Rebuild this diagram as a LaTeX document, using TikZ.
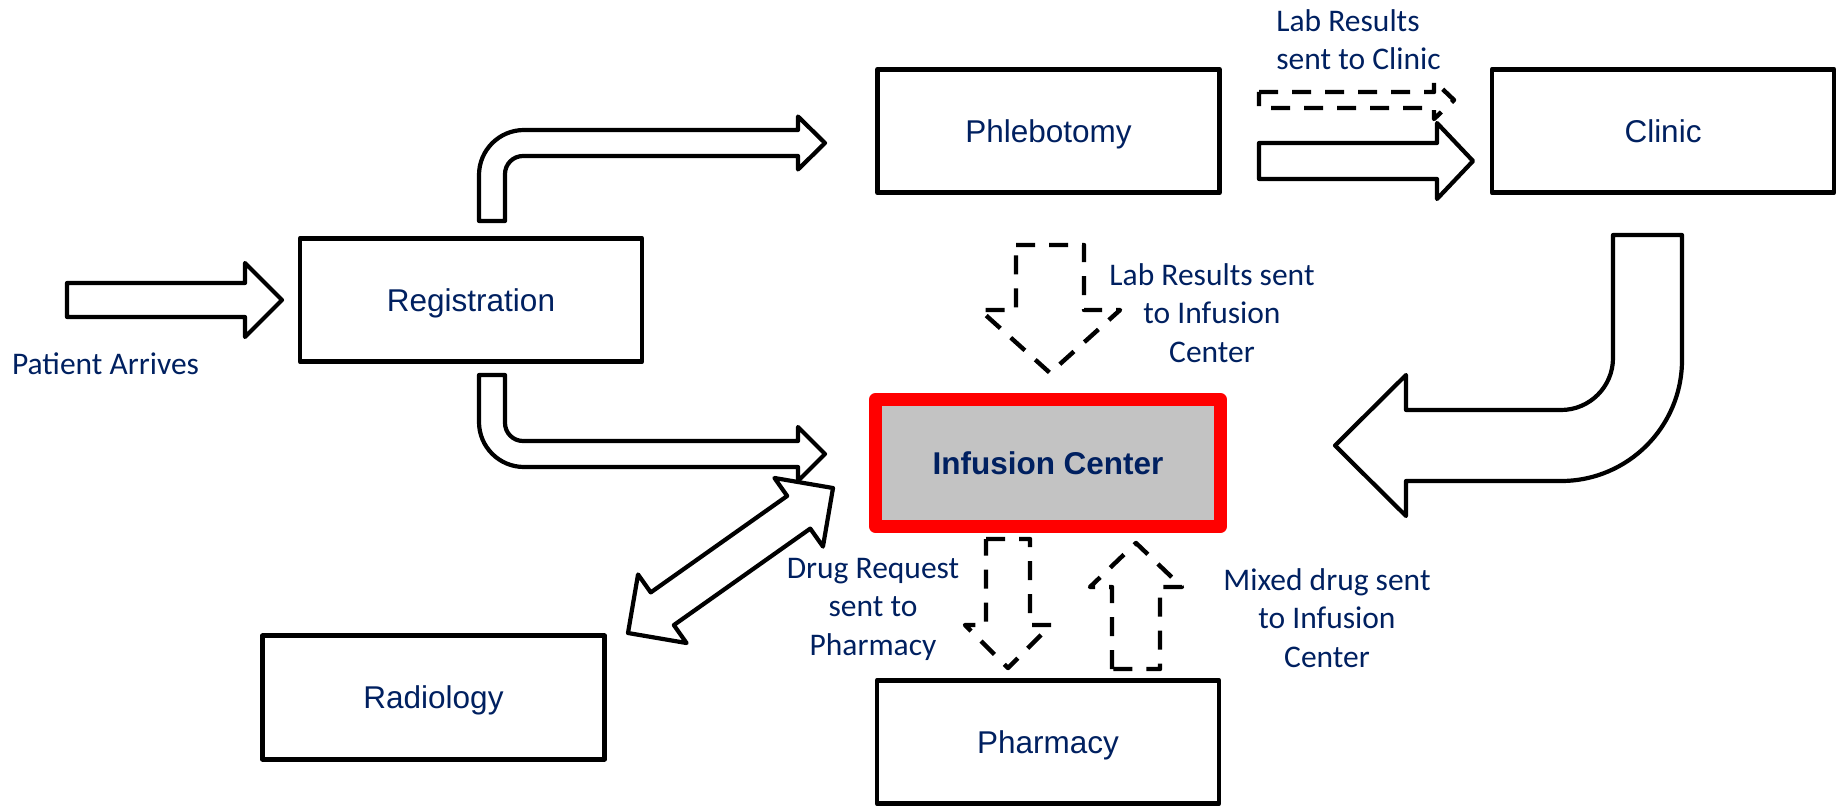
\documentclass[tikz,border=0pt]{standalone}
\usepackage{fontspec}
\setmainfont{Carlito}
\newfontfamily\boxfont{Liberation Sans}
\definecolor{navy}{RGB}{0,32,96}
\definecolor{infgrey}{RGB}{195,195,195}
\definecolor{infred}{RGB}{255,0,0}

\begin{document}
\begin{tikzpicture}[
  x=0.5pt, y=-0.5pt,
  line join=round,
  stagebox/.style={draw=black, line width=2.3pt, fill=white,
    minimum width=171pt, minimum height=61.75pt, inner sep=0pt,
    text depth=0pt,
    font=\boxfont\fontsize{15.75}{19}\selectfont, text=navy},
  centerbox/.style={draw=infred, line width=6.5pt, fill=infgrey,
    minimum width=172.5pt, minimum height=63.5pt, inner sep=0pt,
    text depth=0pt,
    font=\boxfont\bfseries\fontsize{15.75}{19}\selectfont, text=navy},
  note/.style={inner sep=0pt, text=navy, font=\fontsize{15.75}{19.25}\selectfont},
  blockarrow/.style={draw=black, line width=2.1pt, fill=white},
  dasharrow/.style={draw=black, line width=2.2pt, fill=white,
    dash pattern=on 9.5pt off 7pt}
]
\useasboundingbox (0,0) rectangle (1841,808);

% stages
\node[stagebox]  (reg)   at (471,300)    {Registration};
\node[stagebox]  (phleb) at (1048.5,131) {Phlebotomy};
\node[stagebox]  (clin)  at (1663,131)   {Clinic};
\node[stagebox]  (rad)   at (433.5,697.5){Radiology};
\node[stagebox]  (pharm) at (1048,742)   {Pharmacy};
\node[centerbox] (inf)   at (1048,463)   {Infusion Center};

% patient arrives -> registration
\draw[blockarrow] (67,283) -- (245,283) -- (245,263) -- (282,300)
  -- (245,337) -- (245,317) -- (67,317) -- cycle;

% registration -> phlebotomy (bent up)
\draw[blockarrow] (479,221) -- (479,175)
  arc[start angle=180, end angle=270, radius=45]
  -- (798,130) -- (798,116.5) -- (825,143) -- (798,169.5) -- (798,156)
  -- (523,156) arc[start angle=270, end angle=180, radius=18]
  -- (505,221) -- cycle;

% registration -> infusion center (bent down)
\draw[blockarrow] (479,375) -- (479,422)
  arc[start angle=180, end angle=90, radius=45]
  -- (798,467) -- (798,481) -- (825,454) -- (798,427) -- (798,441)
  -- (523,441) arc[start angle=90, end angle=180, radius=18]
  -- (505,375) -- cycle;

% phlebotomy -> clinic
\draw[blockarrow] (1259,143) -- (1437,143) -- (1437,123) -- (1473,161)
  -- (1437,199) -- (1437,179) -- (1259,179) -- cycle;

% lab results -> clinic
\draw[dasharrow] (1259,92) -- (1434,92) -- (1434,81) -- (1454,100)
  -- (1434,119) -- (1434,108) -- (1259,108) -- cycle;

% clinic -> infusion center (U-turn)
\draw[blockarrow] (1613,235) -- (1682,235) -- (1682,360)
  arc[start angle=0, end angle=90, radius=121]
  -- (1406,481) -- (1406,516) -- (1335,445.5) -- (1406,375) -- (1406,410)
  -- (1561,410) arc[start angle=90, end angle=0, radius=52]
  -- cycle;

% lab results -> infusion center
\draw[dasharrow] (1016,245) -- (1084,245) -- (1084,310) -- (1120,310)
  -- (1050,373) -- (980,310) -- (1016,310) -- cycle;

% drug request -> pharmacy
\draw[dasharrow] (986,539) -- (1030,539) -- (1030,625) -- (1051,625)
  -- (1008,668) -- (965,625) -- (986,625) -- cycle;

% mixed drug -> infusion center
\draw[dasharrow] (1112,669) -- (1112,587) -- (1090,587) -- (1136,543)
  -- (1182,587) -- (1160,587) -- (1160,669) -- cycle;

% radiology <-> infusion center
\begin{scope}[shift={(628,633)}, rotate=35.27]
  \draw[blockarrow] (0,0) -- (42,-42) -- (42,-20) -- (209.1,-20)
    -- (209.1,-42) -- (251.1,0) -- (209.1,42) -- (209.1,20) -- (42,20)
    -- (42,42) -- cycle;
\end{scope}

% labels (multi-line labels are anchored at the baseline of their last line)
\node[note, anchor=base] (arrive) at (105.5,374) {Patient Arrives};
\node[note, anchor=base west, align=left] (labclin) at (1276,70)
  {Lab Results\\sent to Clinic};
\node[note, anchor=base, align=center] (labinf) at (1212,362)
  {Lab Results sent\\to Infusion\\Center};
\node[note, anchor=base, align=center] (drugreq) at (873,655)
  {Drug Request\\sent to\\Pharmacy};
\node[note, anchor=base, align=center] (mixed) at (1327,667)
  {Mixed drug sent\\to Infusion\\Center};
\end{tikzpicture}
\end{document}
